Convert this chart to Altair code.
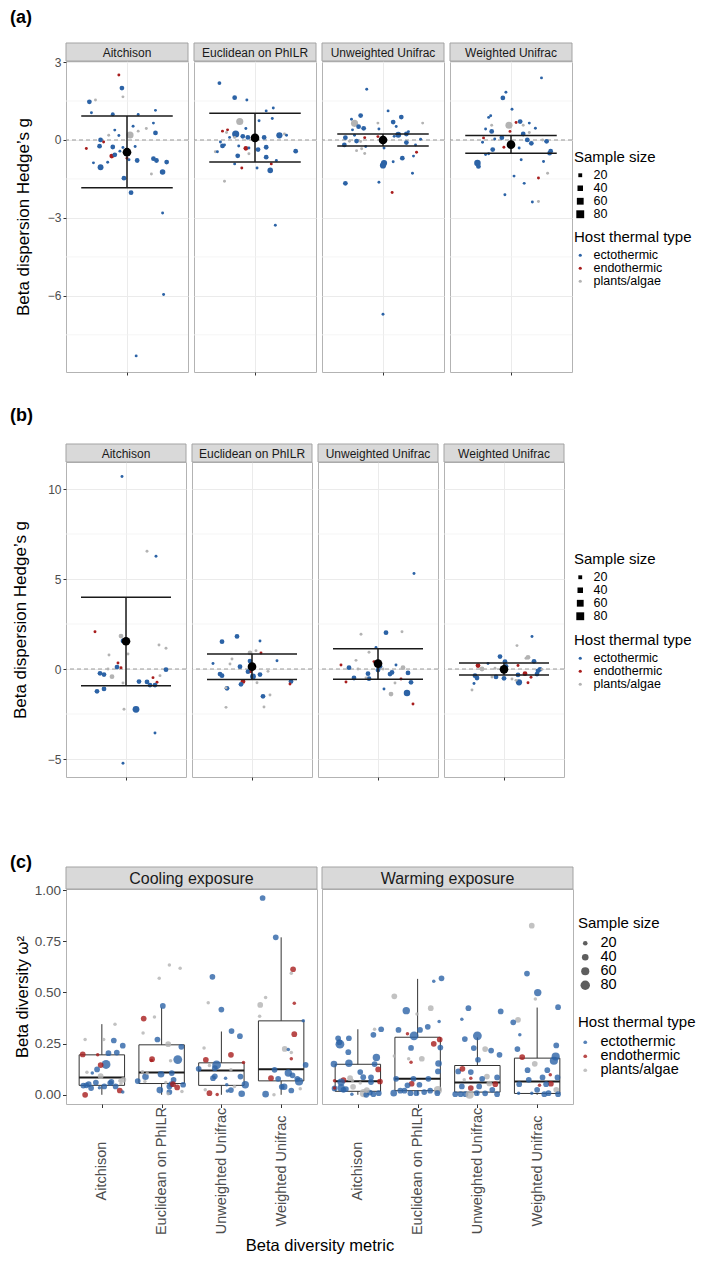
import altair as alt
import pandas as pd

METRICS = ["Aitchison", "Euclidean on PhILR", "Unweighted Unifrac", "Weighted Unifrac"]
EXPOSURES = ["Cooling exposure", "Warming exposure"]
TYPE_CODES = {"b": "ectothermic", "r": "endothermic", "g": "plants/algae"}
TYPES = ["ectothermic", "endothermic", "plants/algae"]
TYPE_COLORS = ["#2c63a6", "#a81d1d", "#b3b3b3"]
SIZE_BREAKS = [20, 40, 60, 80]
PANEL_LABELS = ["(a)", "(b)", "(c)"]

# ---------------- panel (a): beta dispersion, cooling ----------------
a1_x = [-0.08,-0.05,-0.04,-0.37,-0.31,-0.35,-0.14,0.11,0.28,0.06,0.19,0.11,-0.12,-0.18,-0.08,0.03,0.26,0.28,-0.26,-0.23,-0.40,-0.27,-0.14,-0.04,0.08,-0.07,-0.15,-0.12,0.00,0.02,-0.19,-0.33,0.10,0.26,0.29,0.39,-0.26,0.24,0.35,-0.03,0.04,0.35,0.36,0.09]
a1_y = [2.50,2.00,1.66,1.47,1.54,1.05,0.99,0.98,1.14,0.53,0.44,0.34,0.38,0.18,0.17,0.19,0.65,0.27,0.00,-0.08,-0.33,-0.24,-0.27,-0.29,-0.25,-0.43,-0.62,-0.57,-0.70,-0.76,-0.86,-0.88,-0.79,-0.72,-0.79,-0.85,-1.05,-1.31,-1.23,-1.47,-2.03,-2.81,-5.95,-8.31]
a1_t = "rbgbgbbbbbggbgbgbbbrrbbbbbrbrbbbbbbbbgbbbbbb"
a1_n = [12,30,12,30,12,12,20,12,12,12,12,12,12,12,12,65,12,30,30,12,12,30,30,12,12,12,30,30,12,12,12,12,30,30,30,30,45,12,40,30,30,12,12,12]

a2_x = [-0.35,-0.20,-0.08,0.18,0.11,0.04,0.17,-0.15,-0.32,-0.27,-0.28,-0.19,-0.09,-0.25,-0.12,-0.20,-0.07,0.09,0.24,0.29,0.31,-0.32,-0.30,-0.34,-0.39,-0.37,-0.16,-0.09,-0.06,-0.06,0.03,0.11,0.40,-0.17,0.11,-0.20,-0.13,0.02,0.15,0.16,0.21,-0.30,0.20]
a2_y = [2.19,1.63,1.54,1.23,1.12,0.74,0.83,0.71,0.34,0.39,0.29,0.23,0.44,0.10,0.14,0.10,0.10,0.10,0.18,0.23,0.18,-0.23,-0.19,-0.08,-0.45,-0.45,-0.23,-0.32,-0.31,-0.53,-0.37,-0.28,-0.43,-0.61,-0.66,-0.92,-1.08,-1.08,-1.17,-0.92,-0.79,-1.59,-3.28]
a2_t = "bbbbbbbgrrgbbbbgbbbgbbbbgbbrbgbbbbbbrbbrbgb"
a2_n = [20,30,12,12,12,12,12,65,12,12,12,65,12,12,30,12,30,30,50,12,12,30,12,12,12,12,12,30,12,12,30,30,30,30,30,12,12,12,40,12,12,12,12]

a3_x = [-0.16,0.05,-0.22,0.18,-0.31,-0.28,0.10,-0.05,0.39,0.13,-0.24,-0.19,-0.30,-0.04,0.25,0.15,0.23,0.11,-0.37,-0.28,-0.18,-0.05,0.37,-0.33,-0.26,-0.22,0.23,-0.38,-0.17,0.01,0.32,-0.26,-0.21,-0.18,0.33,0.30,0.19,0.01,0.00,0.10,0.29,-0.37,-0.04,0.09,0.00]
a3_y = [1.95,1.12,0.94,0.88,0.80,0.64,0.69,0.65,0.65,0.52,0.51,0.45,0.39,0.42,0.32,0.20,0.23,0.14,0.09,0.18,0.09,0.13,0.03,-0.05,-0.04,-0.06,-0.10,-0.19,-0.25,-0.31,-0.19,-0.41,-0.34,-0.52,-0.47,-0.62,-0.70,-0.89,-0.98,-0.84,-1.28,-1.67,-1.63,-2.02,-6.71]
a3_t = "bbbbbgbggbbbbbbbbbbbrrbgbgbbbbbgggrbbbbbbbbrb"
a3_n = [12,12,30,30,12,65,30,12,12,12,30,30,12,12,12,45,30,12,30,12,12,12,12,12,30,12,30,30,12,12,12,12,12,12,12,12,30,50,50,12,12,30,12,12,12]

a4_x = [0.30,-0.05,-0.08,0.01,-0.20,-0.22,0.09,0.18,-0.02,0.05,0.12,-0.19,-0.25,0.24,-0.19,0.18,0.12,-0.01,-0.27,-0.16,-0.09,0.16,-0.28,0.35,0.31,0.20,-0.07,0.08,-0.18,-0.25,-0.22,0.39,0.38,0.10,0.32,-0.33,-0.32,0.36,0.03,0.27,0.13,-0.06,0.21,0.27]
a4_y = [2.39,1.84,1.62,1.18,0.93,0.87,0.71,0.65,0.57,0.67,0.57,0.57,0.42,0.45,0.33,0.29,0.23,0.33,0.08,0.04,0.09,0.00,-0.09,-0.05,0.00,-0.13,-0.28,-0.31,-0.37,-0.56,-0.53,-0.43,-0.51,-0.76,-0.83,-0.89,-1.02,-1.28,-1.39,-1.46,-1.67,-2.11,-2.39,-2.37]
a4_t = "bbbbbbbbgrggbbbgbrrbbbbbgbrbbbbbbbbbbgbrbbbg"
a4_n = [12,12,30,12,12,12,30,12,65,12,12,12,12,12,30,12,30,12,12,12,30,30,12,30,12,30,12,12,30,12,12,30,30,12,12,55,30,12,12,12,12,12,12,12]

a_mean = [-0.47, 0.08, 0.00, -0.18]
a_lo = [-1.84, -0.85, -0.23, -0.51]
a_hi = [0.92, 1.03, 0.23, 0.17]

# ---------------- panel (b): beta dispersion, warming ----------------
b1_x = [-0.04,0.21,0.30,-0.31,-0.05,-0.03,0.33,0.40,-0.17,0.02,-0.08,-0.09,-0.05,-0.18,0.40,-0.26,-0.22,-0.14,0.27,0.34,-0.03,0.13,0.21,0.31,0.24,0.29,-0.22,-0.29,0.10,-0.02,0.29,-0.03]
b1_y = [10.69,6.54,6.26,2.07,1.83,1.56,1.33,1.15,0.78,0.83,0.33,0.11,0.07,0.00,-0.04,-0.24,-0.31,-0.43,-0.48,-0.37,-0.78,-0.70,-0.72,-0.74,-0.89,-0.89,-1.11,-1.24,-2.24,-2.24,-3.56,-5.24]
b1_t = "bgbrgbggggrbrgbbbgrggbbrbbbbbgbb"
b1_n = [12,12,12,12,30,30,12,12,12,12,12,30,12,12,30,30,30,30,12,12,12,30,30,12,30,30,30,30,60,12,12,12]

b2_x = [-0.15,-0.30,0.08,0.04,-0.02,0.09,-0.20,-0.39,-0.02,0.25,-0.22,-0.12,-0.04,0.16,-0.01,-0.32,-0.30,0.01,0.08,-0.09,0.05,-0.11,0.39,0.38,-0.25,-0.26,0.18,0.11,-0.26,0.12]
b2_y = [1.81,1.52,1.56,1.02,0.89,0.89,0.56,0.31,0.44,0.46,0.28,0.13,-0.15,-0.13,-0.15,-0.28,-0.37,-0.41,-0.31,-0.69,-0.76,-0.85,-0.69,-0.83,-1.07,-1.05,-1.44,-1.52,-2.13,-2.11]
b2_t = "bbbggrgbbbgbbgrbbbbrgbbrbggbgg"
b2_n = [30,30,12,12,30,12,12,12,30,12,12,30,30,12,12,30,30,45,30,30,12,30,30,12,30,12,12,30,12,12]

b3_x = [0.36,-0.17,0.08,0.24,-0.09,-0.02,-0.04,0.02,0.18,-0.22,-0.37,-0.29,-0.20,0.05,0.25,0.14,0.12,0.00,0.30,-0.10,-0.09,-0.24,-0.12,0.23,-0.32,0.33,0.17,0.06,0.13,0.29,0.35]
b3_y = [5.31,1.93,2.02,2.07,0.93,1.19,0.41,0.15,0.22,0.48,0.22,0.07,0.00,0.00,0.07,-0.19,-0.28,-0.06,-0.22,-0.26,-0.54,-0.50,-0.50,-0.56,-0.72,-0.74,-0.78,-1.11,-1.39,-1.33,-1.94]
b3_t = "bgbggbrbbgrbgggbbbbbbbgrrbgbgbr"
b3_n = [12,12,30,12,12,12,12,30,12,12,12,30,12,12,30,30,30,30,30,30,30,30,12,12,12,30,12,12,30,55,12]

b4_x = [0.28,0.13,0.24,0.22,-0.04,-0.16,0.01,0.30,-0.26,0.14,0.02,-0.22,-0.09,0.36,0.34,0.38,0.21,0.33,-0.29,-0.27,-0.08,0.00,-0.12,0.14,0.08,0.27,0.15,0.12,0.24,-0.30,-0.32]
b4_y = [1.81,1.30,0.65,0.60,0.69,0.31,0.41,0.43,0.19,0.19,0.15,0.00,0.04,-0.02,-0.10,-0.02,-0.26,-0.28,-0.37,-0.50,-0.44,-0.52,-0.44,-0.33,-0.56,-0.46,-0.74,-0.63,-0.76,-0.81,-1.17]
b4_t = "bgggbbbbrrbggbbgrbbbbbgbgrbgrbg"
b4_n = [12,12,30,12,30,12,30,30,30,12,30,30,12,30,30,12,30,30,30,30,30,30,12,30,12,12,50,12,12,12,12]

b_mean = [1.54, 0.13, 0.30, -0.02]
b_lo = [-0.93, -0.59, -0.57, -0.33]
b_hi = [3.98, 0.83, 1.13, 0.33]

# ---------------- panel (c): beta diversity omega^2 ----------------
cc1_x = [-0.28,0.03,0.22,0.20,0.35,-0.32,-0.07,0.07,0.11,0.25,-0.02,-0.08,-0.25,-0.16,-0.02,-0.26,-0.31,-0.22,-0.10,-0.18,0.04,0.16,0.14,0.23,0.30,0.36,0.32,0.30,0.35,-0.28,-0.04]
cc1_y = [0.27,0.27,0.345,0.265,0.24,0.197,0.195,0.148,0.203,0.206,0.145,0.124,0.11,0.107,0.091,0.046,0.045,0.052,0.06,0.033,0.041,0.063,0.057,0.041,0.068,0.073,0.055,0.021,0.013,0.0,0.034]
cc1_t = "gggbbrrbbbrbgbgbbbbbbbbbgggrbrb"
cc1_n = [12,12,12,30,30,30,12,70,30,30,30,30,12,12,30,30,30,30,30,30,30,30,30,30,12,30,12,30,12,30,12]

cc2_x = [0.13,0.31,-0.04,0.02,-0.30,-0.12,-0.31,-0.07,0.11,0.33,-0.16,-0.17,0.27,0.15,-0.40,-0.27,-0.32,-0.24,-0.01,0.17,0.20,0.07,-0.03,0.13,0.16,0.19,0.26,0.36,0.13,0.11,0.34,-0.28]
cc2_y = [0.634,0.618,0.569,0.434,0.372,0.38,0.302,0.27,0.247,0.234,0.174,0.168,0.172,0.166,0.067,0.088,0.112,0.105,0.10,0.106,0.073,0.06,0.023,0.041,0.052,0.052,0.036,0.049,0.013,0.005,0.016,0.065]
cc2_t = "gggbrggbgbrrbgbbggbbbgbbbrrbbggg"
cc2_n = [12,12,12,30,30,12,12,30,30,30,30,12,70,12,30,40,12,12,40,30,30,12,40,30,30,30,30,30,30,12,12,12]

cc3_x = [-0.15,-0.22,0.0,0.17,0.31,-0.29,0.16,-0.26,0.37,-0.08,-0.11,-0.38,-0.20,0.16,-0.14,-0.11,0.07,0.32,0.40,0.09,0.22,0.16,0.34,-0.20,-0.07,-0.27,0.10]
cc3_y = [0.576,0.45,0.416,0.311,0.286,0.228,0.195,0.171,0.158,0.146,0.13,0.127,0.143,0.122,0.081,0.09,0.081,0.089,0.049,0.049,0.041,0.023,0.005,0.008,0.002,0.024,0.019]
cc3_t = "bgbbbgrrrbbbggbbbbbbgbbrrgb"
cc3_n = [30,12,30,30,30,12,30,30,12,70,30,30,12,12,30,30,12,30,50,12,12,30,40,30,12,12,12]

cc4_x = [-0.31,-0.09,0.20,0.17,-0.26,-0.35,0.22,-0.36,0.37,0.22,0.06,0.12,0.17,0.17,0.41,-0.11,0.12,0.19,0.30,-0.17,-0.05,0.27,0.01,0.17,-0.26,0.05,-0.12,0.32]
cc4_y = [0.961,0.769,0.613,0.593,0.475,0.439,0.447,0.384,0.361,0.296,0.224,0.221,0.207,0.176,0.146,0.122,0.106,0.095,0.065,0.081,0.078,0.078,0.039,0.021,0.003,0.039,0.0,0.029]
cc4_t = "bbrgggrgbrgbgrbbbbbrbbbbbbgg"
cc4_n = [30,30,30,12,12,30,12,12,12,30,30,12,12,12,30,30,50,30,60,30,30,30,30,30,40,40,12,12]

cw1_x = [0.28,0.39,0.26,-0.33,-0.15,-0.30,-0.31,-0.16,0.31,-0.40,-0.15,0.28,0.34,0.04,0.09,0.22,-0.39,-0.24,-0.28,-0.13,-0.09,0.22,0.37,-0.39,-0.39,-0.28,-0.20,0.04,-0.08,0.10,-0.10,0.20,0.26,0.35,0.14,0.15,-0.24]
cw1_y = [0.32,0.32,0.293,0.276,0.276,0.247,0.257,0.208,0.182,0.15,0.154,0.15,0.124,0.111,0.086,0.085,0.068,0.072,0.062,0.081,0.07,0.062,0.065,0.031,0.033,0.033,0.028,0.057,0.039,0.008,0.003,0.011,0.003,0.008,0.0,0.023,0.024]
cw1_t = "gbbbbbbbbbbbrbbbrrbggbrbrbbgggbbbbbgb"
cw1_n = [12,30,30,30,30,70,30,30,50,40,50,30,30,30,30,30,12,30,50,30,12,30,30,30,12,50,30,12,30,60,12,30,30,30,30,30,30]

cw2_x = [0.40,0.27,-0.39,-0.19,0.22,-0.01,0.36,0.17,-0.32,0.04,-0.17,-0.06,0.37,0.27,0.38,-0.11,-0.39,-0.15,0.07,-0.11,0.35,0.34,-0.36,-0.07,0.18,-0.10,-0.17,0.03,-0.40,-0.22,-0.12,-0.02,0.11,0.21,0.34,0.33,-0.29]
cw2_y = [0.569,0.554,0.481,0.411,0.423,0.395,0.358,0.332,0.317,0.317,0.298,0.288,0.27,0.249,0.231,0.229,0.189,0.176,0.176,0.159,0.153,0.114,0.078,0.078,0.078,0.054,0.046,0.049,0.008,0.02,0.008,0.008,0.013,0.02,0.023,0.008,0.02]
cw2_t = "bbgbggbbbbrbrrbbgggrbbbbbrbbbbbbbbgbb"
cw2_n = [30,12,30,50,30,12,12,30,30,30,12,70,30,30,30,30,12,12,30,12,40,30,30,30,30,30,30,30,40,30,30,30,30,30,60,30,30]

cw3_x = [-0.15,0.39,-0.26,0.0,-0.21,0.13,0.23,-0.06,0.37,-0.32,-0.25,0.01,-0.11,0.16,0.08,-0.11,0.33,0.30,0.20,-0.11,-0.26,-0.37,-0.28,-0.20,-0.13,-0.01,0.13,0.33,0.25,-0.22,0.03]
cw3_y = [0.423,0.407,0.369,0.288,0.272,0.223,0.216,0.228,0.195,0.114,0.127,0.171,0.111,0.089,0.078,0.081,0.085,0.052,0.055,0.033,0.041,0.003,0.003,0.003,0.0,0.008,0.007,0.003,0.024,0.073,0.041]
cw3_t = "bbbbbgbbbbrbbgbrbrgrbbbbgbbbbgb"
cw3_n = [30,30,12,70,30,30,30,30,30,30,30,30,30,30,30,12,30,30,30,30,30,30,30,30,60,30,30,30,30,12,30]

cw4_x = [-0.09,-0.17,0.01,-0.03,0.35,-0.32,-0.40,-0.29,0.32,-0.33,0.31,-0.25,0.28,-0.04,-0.16,0.17,0.22,0.09,0.34,-0.14,-0.30,0.23,0.04,0.15,0.32,-0.31,-0.09,0.12,0.19,0.35,0.0]
cw4_y = [0.826,0.592,0.499,0.468,0.428,0.366,0.354,0.293,0.241,0.223,0.187,0.184,0.166,0.151,0.12,0.12,0.098,0.085,0.085,0.073,0.052,0.054,0.046,0.052,0.024,0.007,0.007,0.003,0.008,0.003,0.024]
cw4_t = "gbbgbgbbbbbrbgbbrbbbbrrbgbbbbbb"
cw4_n = [30,30,50,12,30,30,30,12,30,30,60,30,60,30,30,30,12,30,30,30,30,30,12,30,30,12,12,30,30,30,30]

cool_q1 = [0.046, 0.055, 0.046, 0.068]
cool_med = [0.085, 0.109, 0.119, 0.125]
cool_q3 = [0.195, 0.244, 0.156, 0.361]
cool_lo = [0.0, 0.0, 0.0, 0.0]
cool_hi = [0.345, 0.426, 0.309, 0.769]
warm_q1 = [0.017, 0.020, 0.013, 0.0065]
warm_med = [0.066, 0.078, 0.060, 0.065]
warm_q3 = [0.149, 0.281, 0.143, 0.179]
warm_lo = [0.0, 0.0, 0.0, 0.0]
warm_hi = [0.32, 0.566, 0.28, 0.426]

# ---------------------------------------------------------------------
COLOR_SCALE = alt.Scale(domain=TYPES, range=TYPE_COLORS)
SIZE_AB = alt.Scale(domain=[10, 90], range=[7, 70])
SIZE_C = alt.Scale(domain=[10, 90], range=[10, 100])


def pts_df(xs, ys, ts, ns, center):
    return pd.DataFrame([{"x": center + dx, "y": y, "type": TYPE_CODES[t], "n": n}
                         for dx, y, t, n in zip(xs, ys, ts, ns)])


def strip_layers(label, w, h, fs):
    df = pd.DataFrame({"label": [label]})
    rect = alt.Chart(df).mark_rect(fill="#d9d9d9", stroke="#a3a3a3", strokeWidth=1).encode(
        x=alt.value(0), x2=alt.value(w), y=alt.value(-h), y2=alt.value(0))
    text = alt.Chart(df).mark_text(fontSize=fs, color="#1a1a1a").encode(
        x=alt.value(w / 2), y=alt.value(-h / 2 + 0.5), text="label:N")
    return [rect, text]


def tag_layer(label, dx, dy):
    df = pd.DataFrame({"label": [label]})
    return alt.Chart(df).mark_text(fontSize=18, fontWeight="bold", align="left",
                                   baseline="top", color="black").encode(
        x=alt.value(dx), y=alt.value(dy), text="label:N")


def legends_ab(x, y_size, y_color):
    size_leg = alt.Legend(title="Sample size", orient="none", legendX=x, legendY=y_size,
                          values=SIZE_BREAKS, symbolType="square", symbolFillColor="black",
                          symbolStrokeColor="black", symbolStrokeWidth=0, titleFontSize=15,
                          labelFontSize=12.5, rowPadding=-3, titlePadding=4, labelOffset=7)
    color_leg = alt.Legend(title="Host thermal type", orient="none", legendX=x, legendY=y_color,
                           symbolType="circle", symbolSize=10, symbolStrokeWidth=0,
                           titleFontSize=15, labelFontSize=12.5, rowPadding=-3,
                           titlePadding=4, labelOffset=7)
    return size_leg, color_leg


def disp_panel(metric, pts, mean, lo, hi, cfg, first, size_leg, color_leg, tag):
    w, h = cfg["w"], cfg["h"]
    xsc = alt.Scale(domain=[0.4, 1.6], nice=False, zero=False)
    ysc = alt.Scale(domain=cfg["domain"], nice=False, zero=False)
    if first:
        yax = alt.Axis(values=cfg["ticks"], grid=True, gridColor="#ebebeb", domain=False,
                       tickSize=3, labelFontSize=12, labelPadding=2,
                       title="Beta dispersion Hedge’s g", titleFontSize=17,
                       titlePadding=cfg["title_pad"])
    else:
        yax = alt.Axis(values=cfg["ticks"], grid=True, gridColor="#ebebeb", domain=False,
                       labels=False, ticks=False, title=None)
    xax = alt.Axis(values=[1], grid=True, gridColor="#ebebeb", domain=False, labels=False,
                   ticks=True, tickSize=3, title=None)

    def X(f):
        return alt.X(f, scale=xsc, axis=xax)

    def Y(f):
        return alt.Y(f, scale=ysc, axis=yax)

    minor = alt.Chart(pd.DataFrame({"v": cfg["minor"]})).mark_rule(
        color="#f3f3f3", strokeWidth=0.8).encode(y=Y("v:Q"))
    zero = alt.Chart(pd.DataFrame({"v": [0.0]})).mark_rule(
        color="#9a9a9a", strokeDash=[4, 3], strokeWidth=1).encode(y=Y("v:Q"))
    points = alt.Chart(pts).mark_circle(opacity=1).encode(
        x=X("x:Q"), y=Y("y:Q"),
        color=alt.Color("type:N", scale=COLOR_SCALE, legend=color_leg),
        size=alt.Size("n:Q", scale=SIZE_AB, legend=size_leg))
    summ = pd.DataFrame({"x": [1.0], "xl": [0.55], "xr": [1.45],
                         "mean": [mean], "lo": [lo], "hi": [hi]})
    base = alt.Chart(summ)
    vbar = base.mark_rule(color="#1a1a1a", strokeWidth=1.5).encode(x=X("x:Q"), y=Y("lo:Q"), y2="hi:Q")
    topb = base.mark_rule(color="#1a1a1a", strokeWidth=1.5).encode(x=X("xl:Q"), x2="xr:Q", y=Y("hi:Q"))
    botb = base.mark_rule(color="#1a1a1a", strokeWidth=1.5).encode(x=X("xl:Q"), x2="xr:Q", y=Y("lo:Q"))
    dot = base.mark_circle(color="black", size=75, opacity=1).encode(x=X("x:Q"), y=Y("mean:Q"))
    layers = [minor, zero, points, vbar, topb, botb, dot] + strip_layers(metric, w, 18, 12)
    if first:
        layers.append(tag_layer(*tag))
    return alt.layer(*layers).properties(width=w, height=h)


def disp_section(groups, means, los, his, cfg, legs, tag):
    size_leg, color_leg = legends_ab(*legs)
    panels = []
    for i, metric in enumerate(METRICS):
        xs, ys, ts, ns = groups[i]
        panels.append(disp_panel(metric, pts_df(xs, ys, ts, ns, 1.0), means[i], los[i], his[i],
                                 cfg, i == 0, size_leg, color_leg, tag))
    return alt.hconcat(*panels, spacing=4).resolve_scale(color="shared", size="shared")


def div_panel(exposure, groups, q1, med, q3, lo, hi, first, size_leg, color_leg, tag):
    w, h = 251, 215
    xsc = alt.Scale(domain=[0.4, 4.6], nice=False, zero=False)
    ysc = alt.Scale(domain=[-0.045, 1.005], nice=False, zero=False)
    label_expr = "[''," + ",".join("'" + m + "'" for m in METRICS) + "][datum.value]"
    common_x = dict(values=[1, 2, 3, 4], grid=False, domain=False, labelExpr=label_expr,
                    labelAngle=270, labelAlign="center", labelBaseline="middle",
                    labelPadding=63, labelFontSize=14.5, labelColor="#4d4d4d",
                    labelFlush=False, labelOverlap=False, tickSize=3.5)
    if first:
        xax = alt.Axis(title="Beta diversity metric", titleFontSize=16.5, titleX=253.5,
                       titlePadding=3, **common_x)
        yax = alt.Axis(values=[0, 0.25, 0.5, 0.75, 1.0], format=".2f", grid=False, domain=False,
                       tickSize=3.5, labelFontSize=13.5, labelPadding=2,
                       title="Beta diversity ω²", titleFontSize=16.5, titlePadding=4)
    else:
        xax = alt.Axis(title=None, **common_x)
        yax = alt.Axis(values=[0, 0.25, 0.5, 0.75, 1.0], grid=False, domain=False,
                       labels=False, ticks=False, title=None)

    def X(f):
        return alt.X(f, scale=xsc, axis=xax)

    def Y(f):
        return alt.Y(f, scale=ysc, axis=yax)

    frames = []
    for i in range(4):
        xs, ys, ts, ns = groups[i]
        frames.append(pts_df(xs, ys, ts, ns, float(i + 1)))
    pts = pd.concat(frames, ignore_index=True)
    bx = pd.DataFrame({"c": [1.0, 2.0, 3.0, 4.0],
                       "xl": [c - 0.38 for c in (1, 2, 3, 4)],
                       "xr": [c + 0.38 for c in (1, 2, 3, 4)],
                       "q1": q1, "med": med, "q3": q3, "lo": lo, "hi": hi})
    base = alt.Chart(bx)
    box = base.mark_rect(fill="white", fillOpacity=0, stroke="#333333", strokeWidth=1).encode(
        x=X("xl:Q"), x2="xr:Q", y=Y("q1:Q"), y2="q3:Q")
    wu = base.mark_rule(color="#333333", strokeWidth=1).encode(x=X("c:Q"), y=Y("q3:Q"), y2="hi:Q")
    wl = base.mark_rule(color="#333333", strokeWidth=1).encode(x=X("c:Q"), y=Y("lo:Q"), y2="q1:Q")
    mline = base.mark_rule(color="#1a1a1a", strokeWidth=2).encode(x=X("xl:Q"), x2="xr:Q", y=Y("med:Q"))
    points = alt.Chart(pts).mark_circle(opacity=0.8).encode(
        x=X("x:Q"), y=Y("y:Q"),
        color=alt.Color("type:N", scale=COLOR_SCALE, legend=color_leg),
        size=alt.Size("n:Q", scale=SIZE_C, legend=size_leg))
    layers = [box, wu, wl, mline, points] + strip_layers(exposure, w, 22, 16)
    if first:
        layers.append(tag_layer(*tag))
    return alt.layer(*layers).properties(width=w, height=h)


# ---------------- assemble ----------------
cfg_a = {"w": 122, "h": 311, "domain": [-8.93, 3.04], "ticks": [-6, -3, 0, 3],
         "minor": [-7.5, -4.5, -1.5, 1.5], "title_pad": 15}
cfg_b = {"w": 120, "h": 315, "domain": [-6.0, 11.5], "ticks": [-5, 0, 5, 10],
         "minor": [-2.5, 2.5, 7.5], "title_pad": 18}

sec_a = disp_section([(a1_x, a1_y, a1_t, a1_n), (a2_x, a2_y, a2_t, a2_n),
                      (a3_x, a3_y, a3_t, a3_n), (a4_x, a4_y, a4_t, a4_n)],
                     a_mean, a_lo, a_hi, cfg_a, (508, 89, 169), (PANEL_LABELS[0], -56, -52))
sec_b = disp_section([(b1_x, b1_y, b1_t, b1_n), (b2_x, b2_y, b2_t, b2_n),
                      (b3_x, b3_y, b3_t, b3_n), (b4_x, b4_y, b4_t, b4_n)],
                     b_mean, b_lo, b_hi, cfg_b, (508, 90, 171), (PANEL_LABELS[1], -56, -55))

size_leg_c = alt.Legend(title="Sample size", orient="none", legendX=512, legendY=27,
                        values=SIZE_BREAKS, symbolType="circle", symbolFillColor="#4d4d4d",
                        symbolStrokeWidth=0, symbolOpacity=0.9, titleFontSize=15,
                        labelFontSize=14.5, rowPadding=-3, titlePadding=5, labelOffset=8)
color_leg_c = alt.Legend(title="Host thermal type", orient="none", legendX=512, legendY=126,
                         symbolType="circle", symbolSize=14, symbolStrokeWidth=0,
                         symbolOpacity=0.8, titleFontSize=15, labelFontSize=14.5,
                         rowPadding=-3, titlePadding=5, labelOffset=8)

cool_groups = [(cc1_x, cc1_y, cc1_t, cc1_n), (cc2_x, cc2_y, cc2_t, cc2_n),
               (cc3_x, cc3_y, cc3_t, cc3_n), (cc4_x, cc4_y, cc4_t, cc4_n)]
warm_groups = [(cw1_x, cw1_y, cw1_t, cw1_n), (cw2_x, cw2_y, cw2_t, cw2_n),
               (cw3_x, cw3_y, cw3_t, cw3_n), (cw4_x, cw4_y, cw4_t, cw4_n)]

sec_c = alt.hconcat(
    div_panel(EXPOSURES[0], cool_groups, cool_q1, cool_med, cool_q3, cool_lo, cool_hi,
              True, size_leg_c, color_leg_c, (PANEL_LABELS[2], -56, -35)),
    div_panel(EXPOSURES[1], warm_groups, warm_q1, warm_med, warm_q3, warm_lo, warm_hi,
              False, size_leg_c, color_leg_c, (PANEL_LABELS[2], -56, -35)),
    spacing=5, bounds="flush",
).resolve_scale(color="shared", size="shared")

top = alt.vconcat(sec_a, sec_b, spacing=30).resolve_scale(color="independent", size="independent")
chart = alt.vconcat(top, sec_c, spacing=72).resolve_scale(
    color="independent", size="independent"
).properties(
    padding={"left": 1, "top": 0, "right": 0, "bottom": 1}
).configure(
    font="Liberation Sans"
).configure_view(
    stroke="#b3b3b3", strokeWidth=1
).configure_axis(
    labelColor="#4d4d4d", tickColor="#333333", titleColor="#000000", titleFontWeight="normal"
).configure_legend(
    titleFontWeight="normal", titleColor="#000000", labelColor="#000000", labelLimit=300
)

chart.save("out.html", embed_options={"renderer": "svg", "actions": False})
